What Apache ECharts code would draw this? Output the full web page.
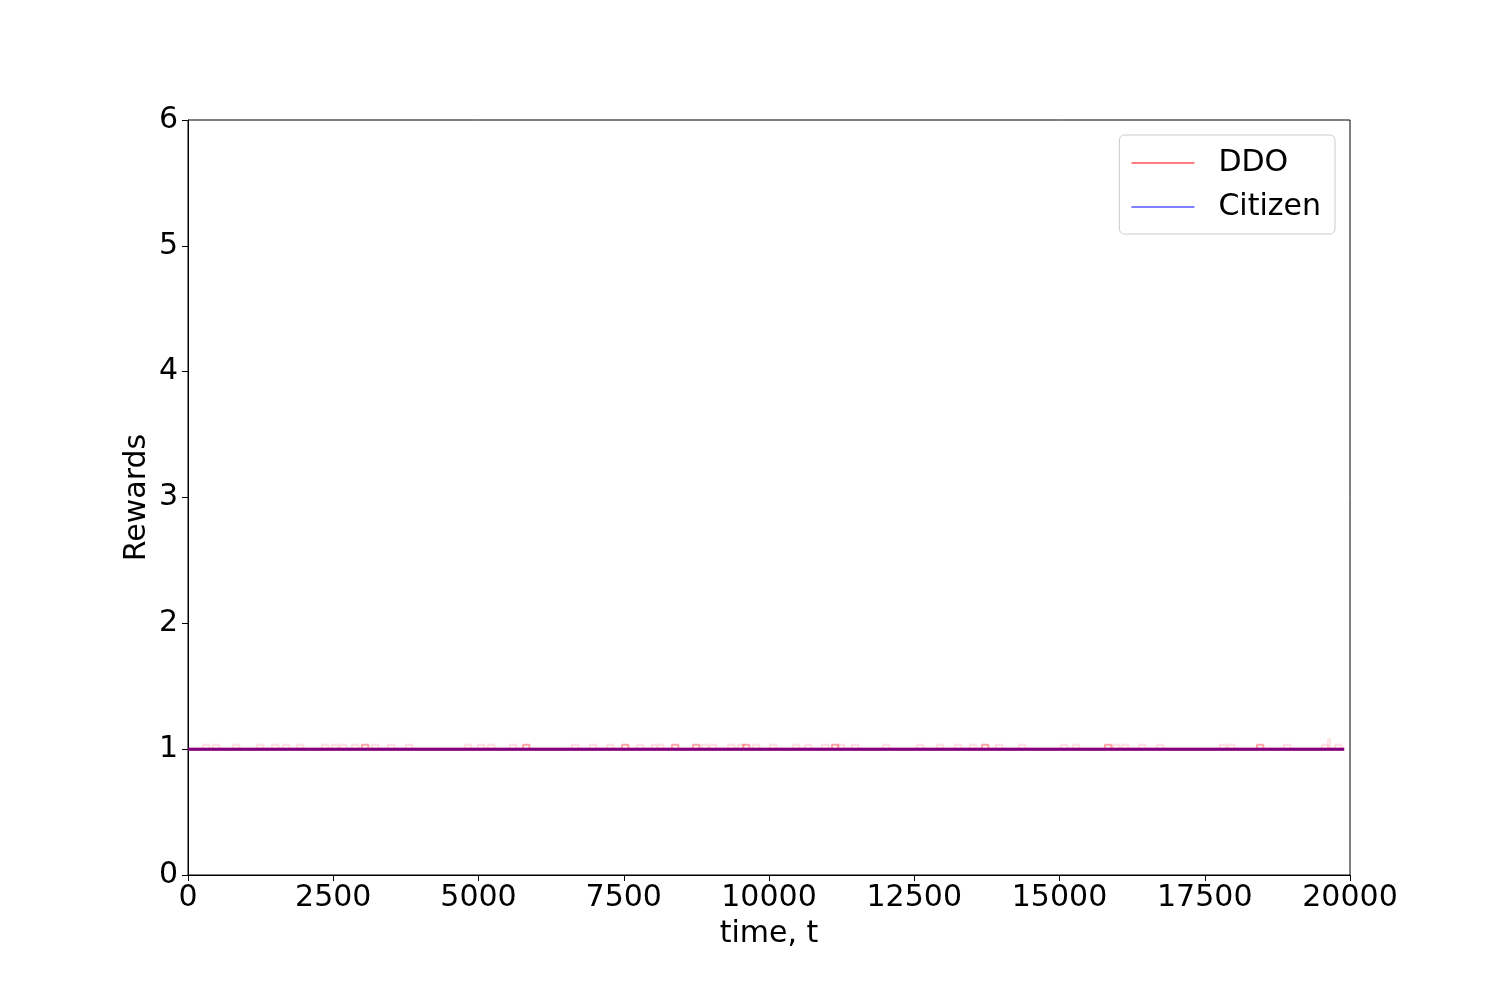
<!DOCTYPE html>
<html>
<head>
<meta charset="utf-8">
<script src="https://cdn.jsdelivr.net/npm/echarts@6/dist/echarts.min.js"></script>
<style>
  html, body { margin: 0; padding: 0; background: #fff; }
  #chart-box { width: 1500px; height: 1000px; }
</style>
</head>
<body>
<div id="chart-box"></div>
<script>
// main trace: both agents sit on reward 1 over the whole run
const runStart = 0
const runEnd = 19900
const baseReward = 1

// faint DDO pulses (time steps) and their level
const pulseTimes = [258, 430, 775, 1188, 1446, 1635, 1876, 2306, 2478, 2616, 2822, 3166, 3442, 3752,
    4768, 4991, 5163, 5542, 6609, 6919, 7211, 7728, 7986, 8072, 8847, 8984, 9294, 9466, 9724, 10016,
    10413, 10620, 10912, 11187, 11428, 11962, 12546, 12890, 13200, 13458, 13906, 14302, 15025, 15231,
    15920, 16075, 16368, 16678, 17762, 17900, 18864, 19518, 19742]
const pulseLevel = 1.035
// darker pulses (several runs overlapping)
const strongTimes = [2994, 5766, 7470, 8330, 8692, 9552, 11084, 13665, 15782, 18399]
const strongLevel = 1.035
// single taller spike near the end
const spikeTimes = [19620]
const spikeLevel = 1.08
const pulseWidth = 110

const xTicks = [0, 2500, 5000, 7500, 10000, 12500, 15000, 17500, 20000]
const yTicks = [0, 1, 2, 3, 4, 5, 6]

function pulses(times, level, w) {
    let out = []
    times.forEach(t => {
        out.push([t, baseReward], [t, level], [t + w, level], [t + w, baseReward], null)
    })
    return out
}

const font = 'DejaVu Sans'
let chart = echarts.init(document.getElementById('chart-box'))
chart.setOption({
    animation: false,
    grid: {left: 188, right: 150, top: 120, bottom: 125, show: true, borderColor: '#000', borderWidth: 1},
    legend: {
        orient: 'vertical',
        right: 165,
        top: 135,
        padding: [10, 14, 9, 12],
        icon: 'rect',
        itemWidth: 63,
        itemHeight: 2,
        itemGap: 8,
        borderColor: '#cccccc',
        borderWidth: 1,
        borderRadius: 5,
        backgroundColor: 'rgba(255,255,255,0.8)',
        textStyle: {fontFamily: font, fontSize: 30, color: '#000', padding: [0, 0, 0, 19], lineHeight: 36},
        data: [
            {name: 'DDO', itemStyle: {color: 'rgba(255,0,0,0.5)', borderWidth: 0}},
            {name: 'Citizen', itemStyle: {color: 'rgba(0,0,255,0.5)', borderWidth: 0}}
        ]
    },
    xAxis: {
        type: 'value', min: 0, max: 20000, interval: 2500,
        name: 'time, t', nameLocation: 'middle', nameGap: 44,
        nameTextStyle: {fontFamily: font, fontSize: 30, color: '#000'},
        axisLine: {lineStyle: {color: '#000', width: 1}},
        axisTick: {show: true, inside: false, length: 6, lineStyle: {color: '#000'}},
        axisLabel: {fontFamily: font, fontSize: 30, color: '#000', margin: 8,
            formatter: v => xTicks.includes(v) ? String(v) : ''},
        splitLine: {show: false}
    },
    yAxis: {
        type: 'value', min: 0, max: 6, interval: 1,
        name: 'Rewards', nameLocation: 'middle', nameGap: 36, nameMoveOverlap: false,
        nameTextStyle: {fontFamily: font, fontSize: 30, color: '#000'},
        axisLine: {show: true, lineStyle: {color: '#000', width: 1}},
        axisTick: {show: true, inside: false, length: 6, lineStyle: {color: '#000'}},
        axisLabel: {fontFamily: font, fontSize: 30, color: '#000', margin: 10,
            formatter: v => yTicks.includes(v) ? String(v) : ''},
        splitLine: {show: false}
    },
    series: [
        {
            name: 'DDO runs', type: 'line', symbol: 'none', silent: true,
            lineStyle: {color: 'rgba(255,0,0,0.13)', width: 2},
            data: pulses(pulseTimes, pulseLevel, pulseWidth)
        },
        {
            name: 'DDO runs strong', type: 'line', symbol: 'none', silent: true,
            lineStyle: {color: 'rgba(255,0,0,0.35)', width: 2},
            data: pulses(strongTimes, strongLevel, pulseWidth)
        },
        {
            name: 'DDO spike', type: 'line', symbol: 'none', silent: true,
            lineStyle: {color: 'rgba(255,0,0,0.12)', width: 1.5},
            data: pulses(spikeTimes, spikeLevel, 40)
        },
        {
            name: 'DDO', type: 'line', symbol: 'none',
            lineStyle: {color: 'rgb(255,0,0)', width: 3},
            data: [[runStart, baseReward], [runEnd, baseReward]]
        },
        {
            name: 'Citizen', type: 'line', symbol: 'none',
            lineStyle: {color: 'rgba(0,0,255,0.5)', width: 3},
            data: [[runStart, baseReward], [runEnd, baseReward]]
        }
    ]
})
</script>
</body>
</html>
